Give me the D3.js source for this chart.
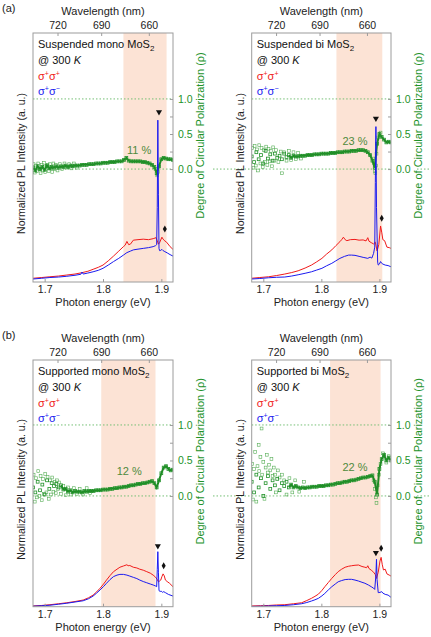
<!DOCTYPE html>
<html>
<head>
<meta charset="utf-8">
<script src="https://cdn.jsdelivr.net/npm/d3@7"></script>
<style>
  body { margin: 0; background: #fff; }
  svg { display: block; }
  text { font-family: "Liberation Sans", Arial, sans-serif; }
</style>
</head>
<body>
<svg id="fig" width="431" height="637"></svg>
<script>
// axis values
const energyDomain = [1.68, 1.92];
const energyTicks = [1.7, 1.8, 1.9];
const wavelengthTicks = [720, 690, 660];
const rhoTicks = [0, 0.25, 0.5, 0.75, 1.0];
const hc = 1239.84;

// PL spectra [photon energy (eV), normalized intensity]
const redSusMono = [[1.680,0.015],[1.695,0.018],[1.709,0.021],[1.724,0.024],[1.738,0.028],[1.752,0.032],[1.763,0.037],[1.774,0.043],[1.783,0.051],[1.792,0.059],[1.800,0.068],[1.809,0.085],[1.818,0.104],[1.827,0.124],[1.835,0.142],[1.838,0.148],[1.841,0.163],[1.844,0.150],[1.847,0.152],[1.852,0.168],[1.860,0.170],[1.869,0.172],[1.878,0.170],[1.886,0.174],[1.891,0.178],[1.893,0.165],[1.895,0.152],[1.897,0.158],[1.901,0.180],[1.903,0.172],[1.906,0.165],[1.909,0.160],[1.915,0.142],[1.920,0.131]];
const blueSusMono = [[1.680,0.012],[1.695,0.015],[1.709,0.018],[1.724,0.020],[1.738,0.023],[1.752,0.027],[1.762,0.031],[1.764,0.040],[1.766,0.032],[1.774,0.036],[1.783,0.041],[1.792,0.047],[1.800,0.055],[1.809,0.068],[1.818,0.082],[1.827,0.095],[1.835,0.108],[1.841,0.118],[1.847,0.124],[1.852,0.129],[1.860,0.132],[1.869,0.135],[1.878,0.138],[1.886,0.142],[1.890,0.146],[1.892,0.150],[1.893,0.300],[1.894,0.650],[1.895,0.350],[1.896,0.135],[1.897,0.126],[1.899,0.127],[1.901,0.131],[1.903,0.126],[1.906,0.122],[1.910,0.117],[1.915,0.110],[1.920,0.104]];
const redSusBi = [[1.680,0.015],[1.694,0.018],[1.709,0.021],[1.723,0.026],[1.737,0.032],[1.749,0.038],[1.760,0.045],[1.772,0.056],[1.783,0.068],[1.792,0.081],[1.801,0.095],[1.809,0.112],[1.818,0.129],[1.825,0.146],[1.832,0.162],[1.835,0.170],[1.838,0.180],[1.841,0.170],[1.844,0.166],[1.850,0.170],[1.858,0.171],[1.865,0.168],[1.872,0.169],[1.877,0.165],[1.880,0.178],[1.882,0.164],[1.886,0.158],[1.890,0.153],[1.893,0.160],[1.896,0.125],[1.899,0.150],[1.902,0.225],[1.904,0.200],[1.906,0.170],[1.909,0.166],[1.913,0.140],[1.917,0.138],[1.920,0.135]];
const blueSusBi = [[1.680,0.012],[1.694,0.014],[1.709,0.017],[1.723,0.019],[1.737,0.020],[1.749,0.024],[1.760,0.029],[1.772,0.035],[1.783,0.041],[1.792,0.048],[1.801,0.055],[1.809,0.065],[1.818,0.075],[1.825,0.085],[1.832,0.095],[1.840,0.103],[1.847,0.108],[1.852,0.108],[1.858,0.107],[1.865,0.103],[1.872,0.099],[1.880,0.095],[1.884,0.100],[1.887,0.096],[1.890,0.115],[1.892,0.140],[1.893,0.400],[1.894,0.624],[1.895,0.300],[1.897,0.080],[1.898,0.068],[1.900,0.072],[1.902,0.082],[1.904,0.075],[1.906,0.072],[1.910,0.068],[1.915,0.066],[1.920,0.061]];
const redSupMono = [[1.680,0.003],[1.695,0.005],[1.709,0.008],[1.724,0.012],[1.738,0.016],[1.752,0.021],[1.766,0.027],[1.775,0.036],[1.783,0.047],[1.789,0.060],[1.795,0.075],[1.801,0.092],[1.806,0.108],[1.812,0.126],[1.818,0.142],[1.824,0.152],[1.829,0.160],[1.835,0.165],[1.841,0.170],[1.843,0.166],[1.846,0.167],[1.852,0.160],[1.858,0.157],[1.863,0.152],[1.869,0.148],[1.875,0.142],[1.881,0.136],[1.886,0.128],[1.890,0.120],[1.893,0.110],[1.895,0.101],[1.897,0.104],[1.899,0.108],[1.901,0.122],[1.903,0.133],[1.905,0.125],[1.907,0.108],[1.910,0.102],[1.914,0.095],[1.920,0.081]];
const blueSupMono = [[1.680,0.002],[1.695,0.004],[1.709,0.006],[1.724,0.010],[1.738,0.014],[1.752,0.019],[1.766,0.024],[1.775,0.032],[1.783,0.043],[1.789,0.055],[1.795,0.068],[1.801,0.082],[1.806,0.095],[1.812,0.110],[1.818,0.122],[1.824,0.128],[1.829,0.131],[1.835,0.131],[1.841,0.128],[1.846,0.124],[1.852,0.119],[1.858,0.114],[1.863,0.108],[1.869,0.102],[1.875,0.097],[1.881,0.092],[1.886,0.088],[1.890,0.084],[1.892,0.081],[1.893,0.150],[1.894,0.223],[1.895,0.140],[1.896,0.065],[1.898,0.062],[1.900,0.063],[1.902,0.058],[1.904,0.061],[1.907,0.057],[1.912,0.050],[1.920,0.043]];
const redSupBi = [[1.680,0.003],[1.695,0.004],[1.709,0.005],[1.723,0.007],[1.737,0.008],[1.752,0.012],[1.766,0.016],[1.775,0.025],[1.783,0.034],[1.789,0.042],[1.795,0.051],[1.801,0.066],[1.806,0.081],[1.812,0.098],[1.818,0.115],[1.824,0.130],[1.829,0.142],[1.835,0.152],[1.841,0.160],[1.847,0.164],[1.852,0.166],[1.858,0.168],[1.864,0.169],[1.870,0.163],[1.875,0.160],[1.878,0.158],[1.880,0.166],[1.882,0.155],[1.886,0.148],[1.890,0.140],[1.893,0.130],[1.895,0.115],[1.898,0.140],[1.901,0.185],[1.903,0.200],[1.905,0.170],[1.907,0.149],[1.910,0.152],[1.913,0.133],[1.917,0.128],[1.920,0.124]];
const blueSupBi = [[1.680,0.001],[1.695,0.002],[1.709,0.003],[1.723,0.004],[1.737,0.005],[1.752,0.008],[1.766,0.012],[1.775,0.017],[1.783,0.023],[1.789,0.028],[1.795,0.034],[1.801,0.044],[1.806,0.054],[1.812,0.068],[1.818,0.081],[1.824,0.092],[1.829,0.101],[1.835,0.106],[1.841,0.110],[1.847,0.111],[1.852,0.111],[1.858,0.108],[1.864,0.104],[1.870,0.099],[1.875,0.095],[1.881,0.088],[1.886,0.081],[1.890,0.075],[1.892,0.070],[1.894,0.130],[1.895,0.192],[1.896,0.110],[1.898,0.057],[1.901,0.058],[1.904,0.061],[1.906,0.055],[1.910,0.050],[1.915,0.047],[1.920,0.038]];

// degree of circular polarization, sampled on greenE
const greenE = [1.680,1.684,1.688,1.692,1.696,1.700,1.704,1.708,1.712,1.716,1.720,1.724,1.728,1.732,1.736,1.740,1.744,1.748,1.752,1.756,1.760,1.764,1.768,1.772,1.776,1.780,1.784,1.788,1.792,1.796,1.800,1.804,1.808,1.812,1.816,1.820,1.824,1.828,1.832,1.836,1.840,1.844,1.848,1.852,1.856,1.860,1.864,1.868,1.872,1.876,1.880,1.884,1.888,1.892,1.896,1.900,1.904,1.908,1.912,1.916,1.920];
const rhoSusMono = [0.02,-0.02,0.04,0.00,0.03,-0.01,0.05,0.01,0.03,0.02,0.04,0.02,0.04,0.03,0.05,0.03,0.05,0.04,0.05,0.05,0.05,0.06,0.06,0.06,0.07,0.07,0.07,0.08,0.08,0.08,0.09,0.09,0.09,0.10,0.10,0.10,0.11,0.11,0.11,0.13,0.16,0.12,0.11,0.11,0.11,0.11,0.11,0.10,0.10,0.09,0.08,0.06,0.03,-0.06,0.04,0.14,0.16,0.15,0.14,0.14,0.13];
const rhoSusBi = [0.18,0.10,0.24,0.14,0.20,0.08,0.26,0.15,0.21,0.12,0.22,0.16,0.19,0.14,0.22,0.17,0.20,0.16,0.19,0.18,0.18,0.19,0.19,0.19,0.20,0.20,0.20,0.21,0.21,0.21,0.22,0.22,0.22,0.22,0.23,0.23,0.23,0.24,0.24,0.24,0.25,0.25,0.25,0.26,0.26,0.26,0.27,0.27,0.27,0.26,0.24,0.20,0.12,0.02,0.36,0.50,0.46,0.42,0.38,0.39,0.38];
const rhoSupMono = [0.12,0.05,0.20,0.08,0.16,0.02,0.22,0.10,0.18,0.14,0.17,0.12,0.15,0.09,0.10,0.06,0.08,0.05,0.07,0.06,0.06,0.05,0.07,0.06,0.07,0.07,0.07,0.08,0.08,0.08,0.09,0.09,0.09,0.10,0.10,0.11,0.11,0.12,0.12,0.13,0.13,0.14,0.15,0.15,0.16,0.17,0.17,0.18,0.18,0.19,0.20,0.21,0.18,0.12,0.22,0.32,0.40,0.42,0.38,0.36,0.37];
const rhoSupBi = [0.20,0.05,0.30,0.12,0.25,0.00,0.18,0.28,0.10,0.22,0.15,0.24,0.08,0.18,0.14,0.20,0.12,0.16,0.12,0.14,0.12,0.11,0.12,0.11,0.12,0.12,0.13,0.13,0.13,0.14,0.14,0.14,0.15,0.15,0.16,0.16,0.17,0.18,0.18,0.19,0.20,0.20,0.21,0.22,0.22,0.23,0.24,0.25,0.26,0.26,0.27,0.28,0.29,0.20,0.02,0.38,0.52,0.58,0.50,0.54,0.50];

// scattered (noisy) polarization points [eV, rho]
const rhoExtraSusMono = [[1.681,0.07],[1.683,-0.05],[1.685,0.05],[1.687,-0.03],[1.689,0.08],[1.691,0.00],[1.693,-0.06],[1.695,0.06],[1.697,-0.02],[1.699,0.09],[1.701,-0.04],[1.703,0.04],[1.705,0.06],[1.707,-0.03],[1.709,0.07],[1.711,0.01],[1.713,-0.04],[1.715,0.08],[1.717,0.00],[1.719,0.06],[1.722,-0.02],[1.726,0.07],[1.730,0.00],[1.734,0.08],[1.738,0.02],[1.742,0.07],[1.746,0.01],[1.750,0.08],[1.755,0.02],[1.890,0.00],[1.893,-0.09],[1.894,-0.04]];
const rhoExtraSusBi = [[1.681,0.30],[1.683,0.02],[1.685,0.33],[1.687,0.05],[1.689,0.28],[1.691,-0.02],[1.693,0.34],[1.695,0.08],[1.697,0.30],[1.699,0.03],[1.701,0.27],[1.703,0.10],[1.705,0.32],[1.707,0.06],[1.709,0.29],[1.711,0.11],[1.713,0.26],[1.715,0.04],[1.717,0.31],[1.719,0.12],[1.722,0.27],[1.726,0.10],[1.730,0.25],[1.732,-0.06],[1.736,0.24],[1.740,0.12],[1.744,0.26],[1.748,0.13],[1.752,0.24],[1.756,0.14],[1.760,0.23],[1.765,0.15],[1.890,0.15],[1.891,0.08],[1.892,-0.03],[1.893,-0.06],[1.894,0.05],[1.895,0.22],[1.898,0.45],[1.902,0.52]];
const rhoExtraSupMono = [[1.681,0.30],[1.683,-0.08],[1.685,0.25],[1.687,-0.02],[1.689,0.35],[1.691,0.00],[1.693,0.28],[1.695,-0.06],[1.697,0.24],[1.699,0.03],[1.701,0.31],[1.703,0.05],[1.705,0.27],[1.707,-0.04],[1.709,0.22],[1.711,0.02],[1.713,0.26],[1.715,0.06],[1.717,0.20],[1.719,0.04],[1.721,0.22],[1.723,0.10],[1.725,0.19],[1.728,0.03],[1.732,0.14],[1.736,0.01],[1.740,0.12],[1.745,0.02],[1.750,0.11],[1.755,0.03],[1.760,0.10],[1.766,0.02],[1.772,0.11],[1.778,0.04]];
const rhoExtraSupBi = [[1.681,0.45],[1.682,-0.05],[1.684,0.38],[1.686,0.62],[1.688,-0.08],[1.690,0.42],[1.692,0.72],[1.693,0.35],[1.695,0.55],[1.697,0.95],[1.698,0.30],[1.700,0.48],[1.702,-0.04],[1.704,0.40],[1.706,0.58],[1.708,0.33],[1.710,0.44],[1.712,0.36],[1.714,0.52],[1.716,0.28],[1.718,0.40],[1.720,0.30],[1.722,0.05],[1.725,0.36],[1.728,0.26],[1.732,0.30],[1.736,0.22],[1.740,0.02],[1.745,0.25],[1.750,0.05],[1.755,0.22],[1.762,0.06],[1.770,0.20],[1.890,0.22],[1.892,0.10],[1.894,-0.02],[1.895,-0.10],[1.897,0.15],[1.899,0.30],[1.902,0.45],[1.906,0.60],[1.912,0.47],[1.916,0.56]];

// peak markers [eV, intensity]
const trionSusMono = [1.896, 0.683], excitonSusMono = [1.906, 0.213];
const trionSusBi = [1.894, 0.657], excitonSusBi = [1.904, 0.256];
const trionSupMono = [1.894, 0.246], excitonSupMono = [1.904, 0.166];
const trionSupBi = [1.894, 0.219], excitonSupBi = [1.903, 0.237];

const redColor = "#f01a1a";
const blueColor = "#1a1af0";
const greenColor = "#22922a";
const shadeColor = "#fce3d5";
const frameColor = "#9c9c9c";

const panels = [
    {id: "susMono", tag: "(a)", left: 33, right: 173, top: 33, bottom: 282, rhoDomain: [-1.61, 1.94],
     sample: "Suspended mono MoS", shade: [1.835, 1.909], pct: "11 %", pctAt: [1.862, 0.21],
     red: redSusMono, blue: blueSusMono, rho: rhoSusMono, rhoExtra: rhoExtraSusMono, bandFrom: 0,
     tri: trionSusMono, dia: excitonSusMono, zeroExt: [213, 251]},
    {id: "susBi", left: 251.7, right: 391, top: 33, bottom: 282, rhoDomain: [-1.61, 1.94],
     sample: "Suspended bi MoS", shade: [1.826, 1.905], pct: "23 %", pctAt: [1.858, 0.35],
     red: redSusBi, blue: blueSusBi, rho: rhoSusBi, rhoExtra: rhoExtraSusBi, bandFrom: 16,
     tri: trionSusBi, dia: excitonSusBi, zeroExt: [417, 431]},
    {id: "supMono", tag: "(b)", left: 33, right: 173, top: 360, bottom: 606.7, rhoDomain: [-1.56, 1.915],
     sample: "Supported mono MoS", shade: [1.797, 1.890], pct: "12 %", pctAt: [1.845, 0.29],
     red: redSupMono, blue: blueSupMono, rho: rhoSupMono, rhoExtra: rhoExtraSupMono, bandFrom: 12,
     tri: trionSupMono, dia: excitonSupMono, zeroExt: [213, 251]},
    {id: "supBi", left: 251.7, right: 391, top: 360, bottom: 606.7, rhoDomain: [-1.56, 1.915],
     sample: "Supported bi MoS", shade: [1.815, 1.902], pct: "22 %", pctAt: [1.858, 0.35],
     red: redSupBi, blue: blueSupBi, rho: rhoSupBi, rhoExtra: rhoExtraSupBi, bandFrom: 16,
     tri: trionSupBi, dia: excitonSupBi, zeroExt: [417, 431]}
];

const svg = d3.select("#fig");

function styleAxis(g, color, size) {
    g.select(".domain").remove();
    g.selectAll(".tick line").attr("stroke", frameColor);
    g.selectAll(".tick text")
        .attr("fill", color)
        .attr("font-size", size)
        .attr("font-family", "Liberation Sans, Arial, sans-serif");
}

function addSigmaLabel(g, x, y, color, second) {
    const t = g.append("text")
        .attr("x", x).attr("y", y)
        .attr("fill", color)
        .attr("font-size", 11);
    t.append("tspan").text("σ");
    t.append("tspan").attr("dy", -4.5).attr("font-size", 7).text("+");
    t.append("tspan").attr("dy", 4.5).text("σ");
    t.append("tspan").attr("dy", -4.5).attr("font-size", 7).text(second);
}

function drawPanel(p) {
    const x = d3.scaleLinear().domain(energyDomain).range([p.left, p.right]);
    const yI = d3.scaleLinear().domain([0, 1]).range([p.bottom, p.top]);
    const yR = d3.scaleLinear().domain(p.rhoDomain).range([p.bottom, p.top]);

    const g = svg.append("g").attr("class", "panel " + p.id);

    g.append("clipPath").attr("id", "clip-" + p.id)
        .append("rect")
        .attr("x", p.left).attr("y", p.top)
        .attr("width", p.right - p.left).attr("height", p.bottom - p.top);

    const plot = g.append("g").attr("clip-path", `url(#clip-${p.id})`);

    // shaded spectral window
    plot.append("rect")
        .attr("x", x(p.shade[0]))
        .attr("y", p.top)
        .attr("width", x(p.shade[1]) - x(p.shade[0]))
        .attr("height", p.bottom - p.top)
        .attr("fill", shadeColor);

    // dotted guides at rho = 0 and 1
    [0, 1].forEach(v => {
        plot.append("line")
            .attr("x1", p.left).attr("x2", p.right)
            .attr("y1", yR(v)).attr("y2", yR(v))
            .attr("stroke", "#74bf74")
            .attr("stroke-width", 1)
            .attr("stroke-dasharray", "1.5,2");
    });
    g.append("line")
        .attr("x1", p.zeroExt[0]).attr("x2", p.zeroExt[1])
        .attr("y1", yR(0)).attr("y2", yR(0))
        .attr("stroke", "#74bf74")
        .attr("stroke-width", 1)
        .attr("stroke-dasharray", "1.5,2");

    // polarization scatter (open squares)
    const band = greenE.map((e, i) => [e, p.rho[i]]);
    plot.append("g")
        .selectAll("rect")
        .data(p.rhoExtra)
        .join("rect")
        .attr("x", d => x(d[0]) - 1.4)
        .attr("y", d => yR(d[1]) - 1.4)
        .attr("width", 2.8).attr("height", 2.8)
        .attr("fill", "none")
        .attr("stroke", "#55ad55")
        .attr("stroke-width", 0.6);
    plot.append("path")
        .datum(band.slice(p.bandFrom))
        .attr("d", d3.line().x(d => x(d[0])).y(d => yR(d[1])))
        .attr("fill", "none")
        .attr("stroke", "#1f8a25")
        .attr("stroke-width", 2);
    plot.append("g")
        .selectAll("rect")
        .data(band)
        .join("rect")
        .attr("x", d => x(d[0]) - 1.4)
        .attr("y", d => yR(d[1]) - 1.4)
        .attr("width", 2.8).attr("height", 2.8)
        .attr("fill", "none")
        .attr("stroke", greenColor)
        .attr("stroke-width", 0.8);

    // PL spectra
    const line = d3.line().x(d => x(d[0])).y(d => yI(d[1]));
    plot.append("path").datum(p.red)
        .attr("d", line).attr("fill", "none")
        .attr("stroke", redColor).attr("stroke-width", 1);
    plot.append("path").datum(p.blue)
        .attr("d", line).attr("fill", "none")
        .attr("stroke", blueColor).attr("stroke-width", 1);

    // peak markers
    g.append("path")
        .attr("d", d3.symbol(d3.symbolTriangle, 16)())
        .attr("transform", `translate(${x(p.tri[0])},${yI(p.tri[1])}) rotate(180)`)
        .attr("fill", "#111");
    g.append("path")
        .attr("d", d3.symbol(d3.symbolDiamond, 14)())
        .attr("transform", `translate(${x(p.dia[0])},${yI(p.dia[1])})`)
        .attr("fill", "#111");

    // frame
    g.append("rect")
        .attr("x", p.left).attr("y", p.top)
        .attr("width", p.right - p.left).attr("height", p.bottom - p.top)
        .attr("fill", "none")
        .attr("stroke", frameColor)
        .attr("stroke-width", 1);

    // axes
    g.append("g")
        .attr("transform", `translate(0,${p.bottom})`)
        .call(d3.axisBottom(x).tickValues(energyTicks).tickFormat(d3.format(".1f"))
            .tickSizeInner(-3).tickSizeOuter(0).tickPadding(4))
        .call(a => styleAxis(a, "#222", 10.5));
    g.append("g")
        .attr("transform", `translate(0,${p.top})`)
        .call(d3.axisTop(x).tickValues(wavelengthTicks.map(w => hc / w))
            .tickFormat((d, i) => wavelengthTicks[i])
            .tickSizeInner(-3).tickSizeOuter(0).tickPadding(4))
        .call(a => styleAxis(a, "#222", 10.5));
    g.append("g")
        .attr("transform", `translate(${p.right},0)`)
        .call(d3.axisRight(yR).tickValues(rhoTicks)
            .tickFormat(d => (d === 0.25 || d === 0.75) ? "" : d3.format(".1f")(d))
            .tickSizeInner(-3).tickSizeOuter(0).tickPadding(5))
        .call(a => styleAxis(a, greenColor, 10.5));

    // axis titles
    const cx = (p.left + p.right) / 2;
    g.append("text")
        .attr("x", cx).attr("y", p.top - 18)
        .attr("text-anchor", "middle").attr("font-size", 11).attr("fill", "#222")
        .text("Wavelength (nm)");
    g.append("text")
        .attr("x", cx).attr("y", p.bottom + 24)
        .attr("text-anchor", "middle").attr("font-size", 11).attr("fill", "#222")
        .text("Photon energy (eV)");
    const midY = (p.top + p.bottom) / 2 + 6;
    g.append("text")
        .attr("transform", `translate(${p.left - 8},${midY}) rotate(-90)`)
        .attr("text-anchor", "middle").attr("font-size", 10.5).attr("fill", "#222")
        .text("Normalized PL Intensity (a. u.)");
    g.append("text")
        .attr("transform", `translate(${p.right + 31},${(p.top + p.bottom) / 2 - 22}) rotate(-90)`)
        .attr("text-anchor", "middle").attr("font-size", 11).attr("fill", greenColor)
        .text("Degree of Circular Polarization (ρ)");

    // in-plot labels
    const tx = p.left + 5;
    const title = g.append("text")
        .attr("x", tx).attr("y", p.top + 15)
        .attr("font-size", 11).attr("fill", "#111");
    title.append("tspan").text(p.sample);
    title.append("tspan").attr("dy", 3).attr("font-size", 8).text("2");
    const temp = g.append("text")
        .attr("x", tx).attr("y", p.top + 31)
        .attr("font-size", 11).attr("fill", "#111");
    temp.append("tspan").text("@ 300 ");
    temp.append("tspan").attr("font-style", "italic").text("K");
    addSigmaLabel(g, tx, p.top + 47, redColor, "+");
    addSigmaLabel(g, tx, p.top + 62, blueColor, "−");

    g.append("text")
        .attr("x", x(p.pctAt[0])).attr("y", yR(p.pctAt[1]))
        .attr("text-anchor", "middle").attr("font-size", 11).attr("fill", "#4f8a3c")
        .text(p.pct);

    if (p.tag) {
        g.append("text")
            .attr("x", 2).attr("y", p.top - 21)
            .attr("font-size", 11).attr("fill", "#222")
            .text(p.tag);
    }
}

panels.forEach(drawPanel);
</script>
</body>
</html>
